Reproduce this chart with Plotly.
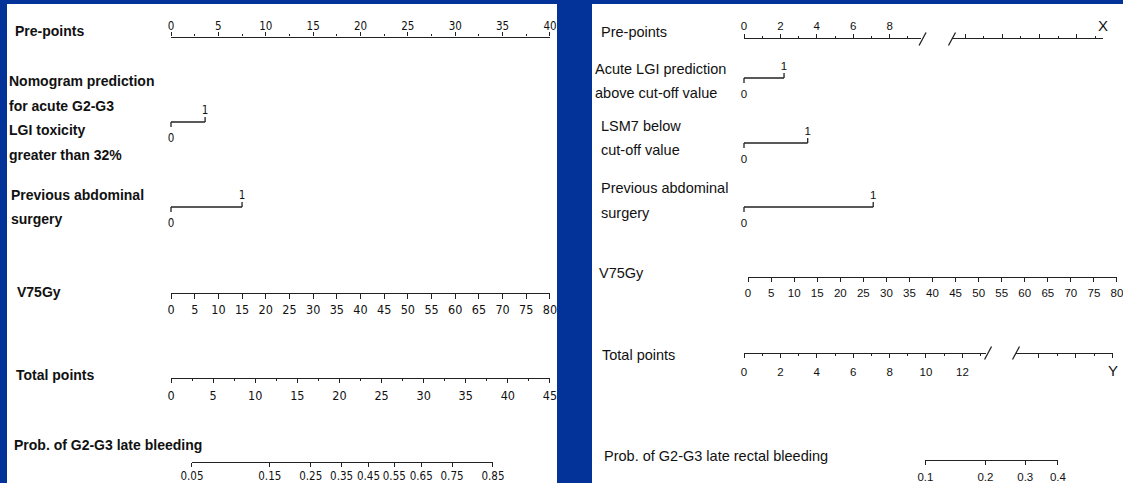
import math
import plotly.graph_objects as go

W, H = 1123, 483

# ---------------------------------------------------------------------------
# Left nomogram: G2-G3 late bleeding
# ---------------------------------------------------------------------------
L_PRE_TICKS = [0, 5, 10, 15, 20, 25, 30, 35, 40]
L_PRE_MINOR = [2.5, 7.5, 12.5, 17.5, 22.5, 27.5, 32.5, 37.5]
L_BIN_NAMES = [
    ["Nomogram prediction", "for acute G2-G3", "LGI toxicity", "greater than 32%"],
    ["Previous abdominal", "surgery"],
]
L_BIN_POINTS = [3.6, 7.5]            # points for level "1" of each binary factor
L_V75_TICKS = [0, 5, 10, 15, 20, 25, 30, 35, 40, 45, 50, 55, 60, 65, 70, 75, 80]
L_TOTAL_TICKS = [0, 5, 10, 15, 20, 25, 30, 35, 40, 45]
L_TOTAL_MINOR = [2.5, 7.5, 12.5, 17.5, 22.5, 27.5, 32.5, 37.5, 42.5]
L_PROB_TICKS = [0.05, 0.15, 0.25, 0.35, 0.45, 0.55, 0.65, 0.75, 0.85]
L_PROB_LABELS = ["0.05", "0.15", "0.25", "0.35", "0.45", "0.55", "0.65", "0.75", "0.85"]
L_INTERCEPT, L_SLOPE = -3.270, 0.1309  # logit(p) = a + b * total points

# ---------------------------------------------------------------------------
# Right nomogram: G2-G3 late rectal bleeding (schematic, broken axes)
# ---------------------------------------------------------------------------
R_PRE_TICKS = [0, 2, 4, 6, 8]
R_PRE_MINOR = [1, 3, 5, 7, 9]
R_PRE_TAIL_TICKS = [0.7, 2.7, 4.7, 6.7]
R_PRE_TAIL_MINOR = [1.7, 3.7, 5.7, 7.7]
R_BIN_NAMES = [
    ["Acute LGI prediction", "above cut-off value"],
    ["LSM7 below", "cut-off value"],
    ["Previous abdominal", "surgery"],
]
R_BIN_POINTS = [2.2, 3.5, 7.1]
R_V75_TICKS = [0, 5, 10, 15, 20, 25, 30, 35, 40, 45, 50, 55, 60, 65, 70, 75, 80]
R_TOTAL_TICKS = [0, 2, 4, 6, 8, 10, 12]
R_TOTAL_MINOR = [1, 3, 5, 7, 9, 11, 13]
R_TOTAL_TAIL_TICKS = [1.2, 3.2, 5.2]
R_TOTAL_TAIL_MINOR = [2.2, 4.2]
R_PROB_TICKS = [0.1, 0.2, 0.3, 0.4]
R_PROB_LABELS = ["0.1", "0.2", "0.3", "0.4"]
R_INTERCEPT, R_SLOPE = -4.649, 0.246
END_LABELS = ["X", "Y"]

# ---------------------------------------------------------------------------
# Styling / geometry (pixels from top-left of the page)
# ---------------------------------------------------------------------------
BLUE = "#033399"
INK = "#222222"
LW = 1.3
SANS = "Liberation Sans, Arial, sans-serif"
NARROW = "Liberation Sans Narrow, DejaVu Sans Condensed, Arial Narrow, sans-serif"

L_LABEL_FONT = dict(family=SANS, size=14, color="#111111", weight="bold")
L_TICK_FONT = dict(family=NARROW, size=11.5, color="#111111")
L_TICK_FONT_BIG = dict(family=NARROW, size=12.5, color="#111111")
R_LABEL_FONT = dict(family=SANS, size=14.5, color="#111111")
R_TICK_FONT = dict(family=SANS, size=11.5, color="#111111")

L_PANEL = (7, 557)
R_PANEL = (592, W)
L_ZERO, L_PRE_PX, L_TOT_PX = 171.0, 379.0 / 40, 379.0 / 45
R_ZERO, R_PX = 744.0, 18.2

L_ROW = dict(pre=37.5, bins=[122, 207], v75=293, total=378, prob=462)
R_ROW = dict(pre=39, bins=[78, 143, 207], v75=277, total=353, prob=460)


def logit(p):
    return math.log(p / (1 - p))


def px(x):
    return x / W


def py(y):
    return 1 - y / H


fig = go.Figure()
layout_axes = {}
count = [2]


def scale_axis(x0, x1, line_y, rng, side, tickvals, ticktext=None, font=None,
               ticklen=4, minor=None, labels=True, standoff=0):
    count[0] += 1
    k = count[0]
    if side == "bottom":
        ydom = [py(line_y), py(line_y - 8)]
    else:
        ydom = [py(line_y + 8), py(line_y)]
    span = rng[1] - rng[0]
    xa = dict(domain=[px(x0), px(x1)],
              range=[rng[0] - 1e-4 * span, rng[1] + 1e-4 * span],
              anchor=f"y{k}", side=side, showline=True, linecolor=INK,
              linewidth=LW, ticks="outside", ticklen=ticklen, tickwidth=1.2,
              tickcolor=INK, tickmode="array", tickvals=tickvals,
              ticktext=ticktext if ticktext is not None else [str(v) for v in tickvals],
              showticklabels=labels, tickfont=font, showgrid=False,
              zeroline=False, fixedrange=True, automargin=False,
              ticklabelstandoff=standoff, ticklabeloverflow="allow")
    if minor:
        xa["minor"] = dict(tickmode="array", tickvals=minor, ticks="outside",
                           ticklen=2, tickwidth=1.1, tickcolor=INK, showgrid=False)
    layout_axes[f"xaxis{k}"] = xa
    layout_axes[f"yaxis{k}"] = dict(domain=ydom, range=[0, 1], anchor=f"x{k}",
                                    visible=False, fixedrange=True, automargin=False)
    # an empty carrier trace so the scale's subplot gets drawn
    fig.add_trace(go.Scatter(x=[rng[0]], y=[0.5], mode="markers",
                             marker=dict(opacity=0, size=1), xaxis=f"x{k}",
                             yaxis=f"y{k}", hoverinfo="skip", showlegend=False))


def binary_row(xref, yref, v, y, font):
    # bar from 0 to the level-1 score; tick down at 0, tick up at 1
    fig.add_trace(go.Scatter(
        x=[0, 0, None, 0, v, None, v, v], y=[y + 5, y, None, y, y, None, y, y - 5],
        mode="lines", line=dict(color=INK, width=LW), xaxis=xref, yaxis=yref,
        hoverinfo="skip", showlegend=False))
    fig.add_trace(go.Scatter(
        x=[0, v], y=[y + 17, y - 11], text=["0", "1"], mode="text",
        textfont=font, xaxis=xref, yaxis=yref, hoverinfo="skip",
        showlegend=False, cliponaxis=False))


# ---- left panel scales ----
scale_axis(L_ZERO, L_ZERO + 40 * L_PRE_PX, L_ROW["pre"], [0, 40], "top",
           L_PRE_TICKS, font=L_TICK_FONT, ticklen=4, minor=L_PRE_MINOR, standoff=-2)
scale_axis(L_ZERO, L_ZERO + 40 * L_PRE_PX, L_ROW["v75"], [0, 80], "bottom",
           L_V75_TICKS, font=L_TICK_FONT_BIG, ticklen=5, standoff=0)
scale_axis(L_ZERO, L_ZERO + 45 * L_TOT_PX, L_ROW["total"], [0, 45], "bottom",
           L_TOTAL_TICKS, font=L_TICK_FONT_BIG, ticklen=4, minor=L_TOTAL_MINOR, standoff=2)
l_prob_pts = [(logit(p) - L_INTERCEPT) / L_SLOPE for p in L_PROB_TICKS]
scale_axis(L_ZERO + l_prob_pts[0] * L_TOT_PX, L_ZERO + l_prob_pts[-1] * L_TOT_PX,
           L_ROW["prob"], [l_prob_pts[0], l_prob_pts[-1]], "bottom",
           l_prob_pts, ticktext=L_PROB_LABELS, font=L_TICK_FONT, ticklen=4, standoff=-1)

# ---- right panel scales (with breaks) ----
r_pre_end = 9.7
r_pre_tail = (952.0, 1103.0)
scale_axis(R_ZERO, R_ZERO + r_pre_end * R_PX, R_ROW["pre"], [0, r_pre_end], "top",
           R_PRE_TICKS, font=R_TICK_FONT, ticklen=4, minor=R_PRE_MINOR, standoff=-1)
scale_axis(r_pre_tail[0], r_pre_tail[1], R_ROW["pre"], [0, 8.1], "top",
           R_PRE_TAIL_TICKS, font=R_TICK_FONT, ticklen=4, minor=R_PRE_TAIL_MINOR,
           labels=False)
scale_axis(748.0, 1117.0, R_ROW["v75"], [0, 80], "bottom",
           R_V75_TICKS, font=R_TICK_FONT, ticklen=4, standoff=1)
r_tot_end = 13.3
r_tot_tail = (1016.0, 1113.0)
scale_axis(R_ZERO, R_ZERO + r_tot_end * R_PX, R_ROW["total"], [0, r_tot_end], "bottom",
           R_TOTAL_TICKS, font=R_TICK_FONT, ticklen=4, minor=R_TOTAL_MINOR, standoff=4)
scale_axis(r_tot_tail[0], r_tot_tail[1], R_ROW["total"], [0, 5.2], "bottom",
           R_TOTAL_TAIL_TICKS, font=R_TICK_FONT, ticklen=4, minor=R_TOTAL_TAIL_MINOR,
           labels=False)
r_prob_pts = [(logit(p) - R_INTERCEPT) / R_SLOPE for p in R_PROB_TICKS]
scale_axis(R_ZERO + r_prob_pts[0] * R_PX, R_ZERO + r_prob_pts[-1] * R_PX,
           R_ROW["prob"], [r_prob_pts[0], r_prob_pts[-1]], "bottom",
           r_prob_pts, ticktext=R_PROB_LABELS, font=R_TICK_FONT, ticklen=4, standoff=2)

# ---- binary factors ----
for v, y in zip(L_BIN_POINTS, L_ROW["bins"]):
    binary_row("x", "y", v, y, L_TICK_FONT)
for v, y in zip(R_BIN_POINTS, R_ROW["bins"]):
    binary_row("x2", "y2", v, y, R_TICK_FONT)


# ---- axis-break slashes on the right panel ----
def to_rpts(xp):
    return (xp - R_ZERO) / R_PX


breaks = [(R_ZERO + r_pre_end * R_PX + 2, R_ROW["pre"]), (r_pre_tail[0], R_ROW["pre"]),
          (R_ZERO + r_tot_end * R_PX + 2, R_ROW["total"]), (r_tot_tail[0], R_ROW["total"])]
bx, by = [], []
for cx, cy in breaks:
    bx += [to_rpts(cx - 3.5), to_rpts(cx + 3.5), None]
    by += [cy + 6.5, cy - 6.5, None]
fig.add_trace(go.Scatter(x=bx, y=by, mode="lines", line=dict(color=INK, width=LW),
                         xaxis="x2", yaxis="y2", hoverinfo="skip", showlegend=False))

# ---- row labels ----
annotations = []


def label(text, x, y, font, anchor="left"):
    annotations.append(dict(text=text, x=px(x), y=py(y), xref="paper", yref="paper",
                            xanchor=anchor, yanchor="middle", showarrow=False,
                            font=font))


label("Pre-points", 13, 31, L_LABEL_FONT)
for i, t in enumerate(L_BIN_NAMES[0]):
    label(t, 7, 81 + i * 24.7, L_LABEL_FONT)
for i, t in enumerate(L_BIN_NAMES[1]):
    label(t, 9, 195 + i * 24, L_LABEL_FONT)
label("V75Gy", 15, 292, L_LABEL_FONT)
label("Total points", 14, 375, L_LABEL_FONT)
label("Prob. of G2-G3 late bleeding", 12, 445, L_LABEL_FONT)

label("Pre-points", 599, 32, R_LABEL_FONT)
label(R_BIN_NAMES[0][0], 593, 69, R_LABEL_FONT)
label(R_BIN_NAMES[0][1], 593, 93, R_LABEL_FONT)
label(R_BIN_NAMES[1][0], 599, 126, R_LABEL_FONT)
label(R_BIN_NAMES[1][1], 599, 150, R_LABEL_FONT)
label(R_BIN_NAMES[2][0], 599, 188, R_LABEL_FONT)
label(R_BIN_NAMES[2][1], 599, 213, R_LABEL_FONT)
label("V75Gy", 597, 273, R_LABEL_FONT)
label("Total points", 600, 355, R_LABEL_FONT)
label("Prob. of G2-G3 late rectal bleeding", 602, 456, R_LABEL_FONT)
label(END_LABELS[0], r_pre_tail[1], 25, dict(family=SANS, size=15, color="#111111"), "center")
label(END_LABELS[1], r_tot_tail[1], 370, dict(family=SANS, size=15, color="#111111"), "center")

# ---- panel backgrounds ----
shapes = [
    dict(type="rect", xref="paper", yref="paper", x0=px(L_PANEL[0]), x1=px(L_PANEL[1]),
         y0=0, y1=py(4), fillcolor="white", line=dict(width=0), layer="below"),
    dict(type="rect", xref="paper", yref="paper", x0=px(R_PANEL[0]), x1=px(R_PANEL[1]),
         y0=0, y1=py(4), fillcolor="white", line=dict(width=0), layer="below"),
]

main_y = dict(domain=[0, 1], range=[H, 0], visible=False, fixedrange=True, automargin=False)
fig.update_layout(
    width=W, height=H, autosize=False,
    margin=dict(l=0, r=0, t=0, b=0, pad=0, autoexpand=False),
    paper_bgcolor=BLUE, plot_bgcolor="rgba(0,0,0,0)",
    showlegend=False,
    xaxis=dict(domain=[px(L_PANEL[0]), px(L_PANEL[1])],
               range=[(L_PANEL[0] - L_ZERO) / L_PRE_PX, (L_PANEL[1] - L_ZERO) / L_PRE_PX],
               visible=False, fixedrange=True, anchor="y", automargin=False),
    yaxis=dict(main_y, anchor="x"),
    xaxis2=dict(domain=[px(R_PANEL[0]), px(R_PANEL[1])],
                range=[to_rpts(R_PANEL[0]), to_rpts(R_PANEL[1])],
                visible=False, fixedrange=True, anchor="y2", automargin=False),
    yaxis2=dict(main_y, anchor="x2"),
    shapes=shapes,
    annotations=annotations,
    **layout_axes,
)

fig.write_html("out.html", config=dict(displayModeBar=False))
